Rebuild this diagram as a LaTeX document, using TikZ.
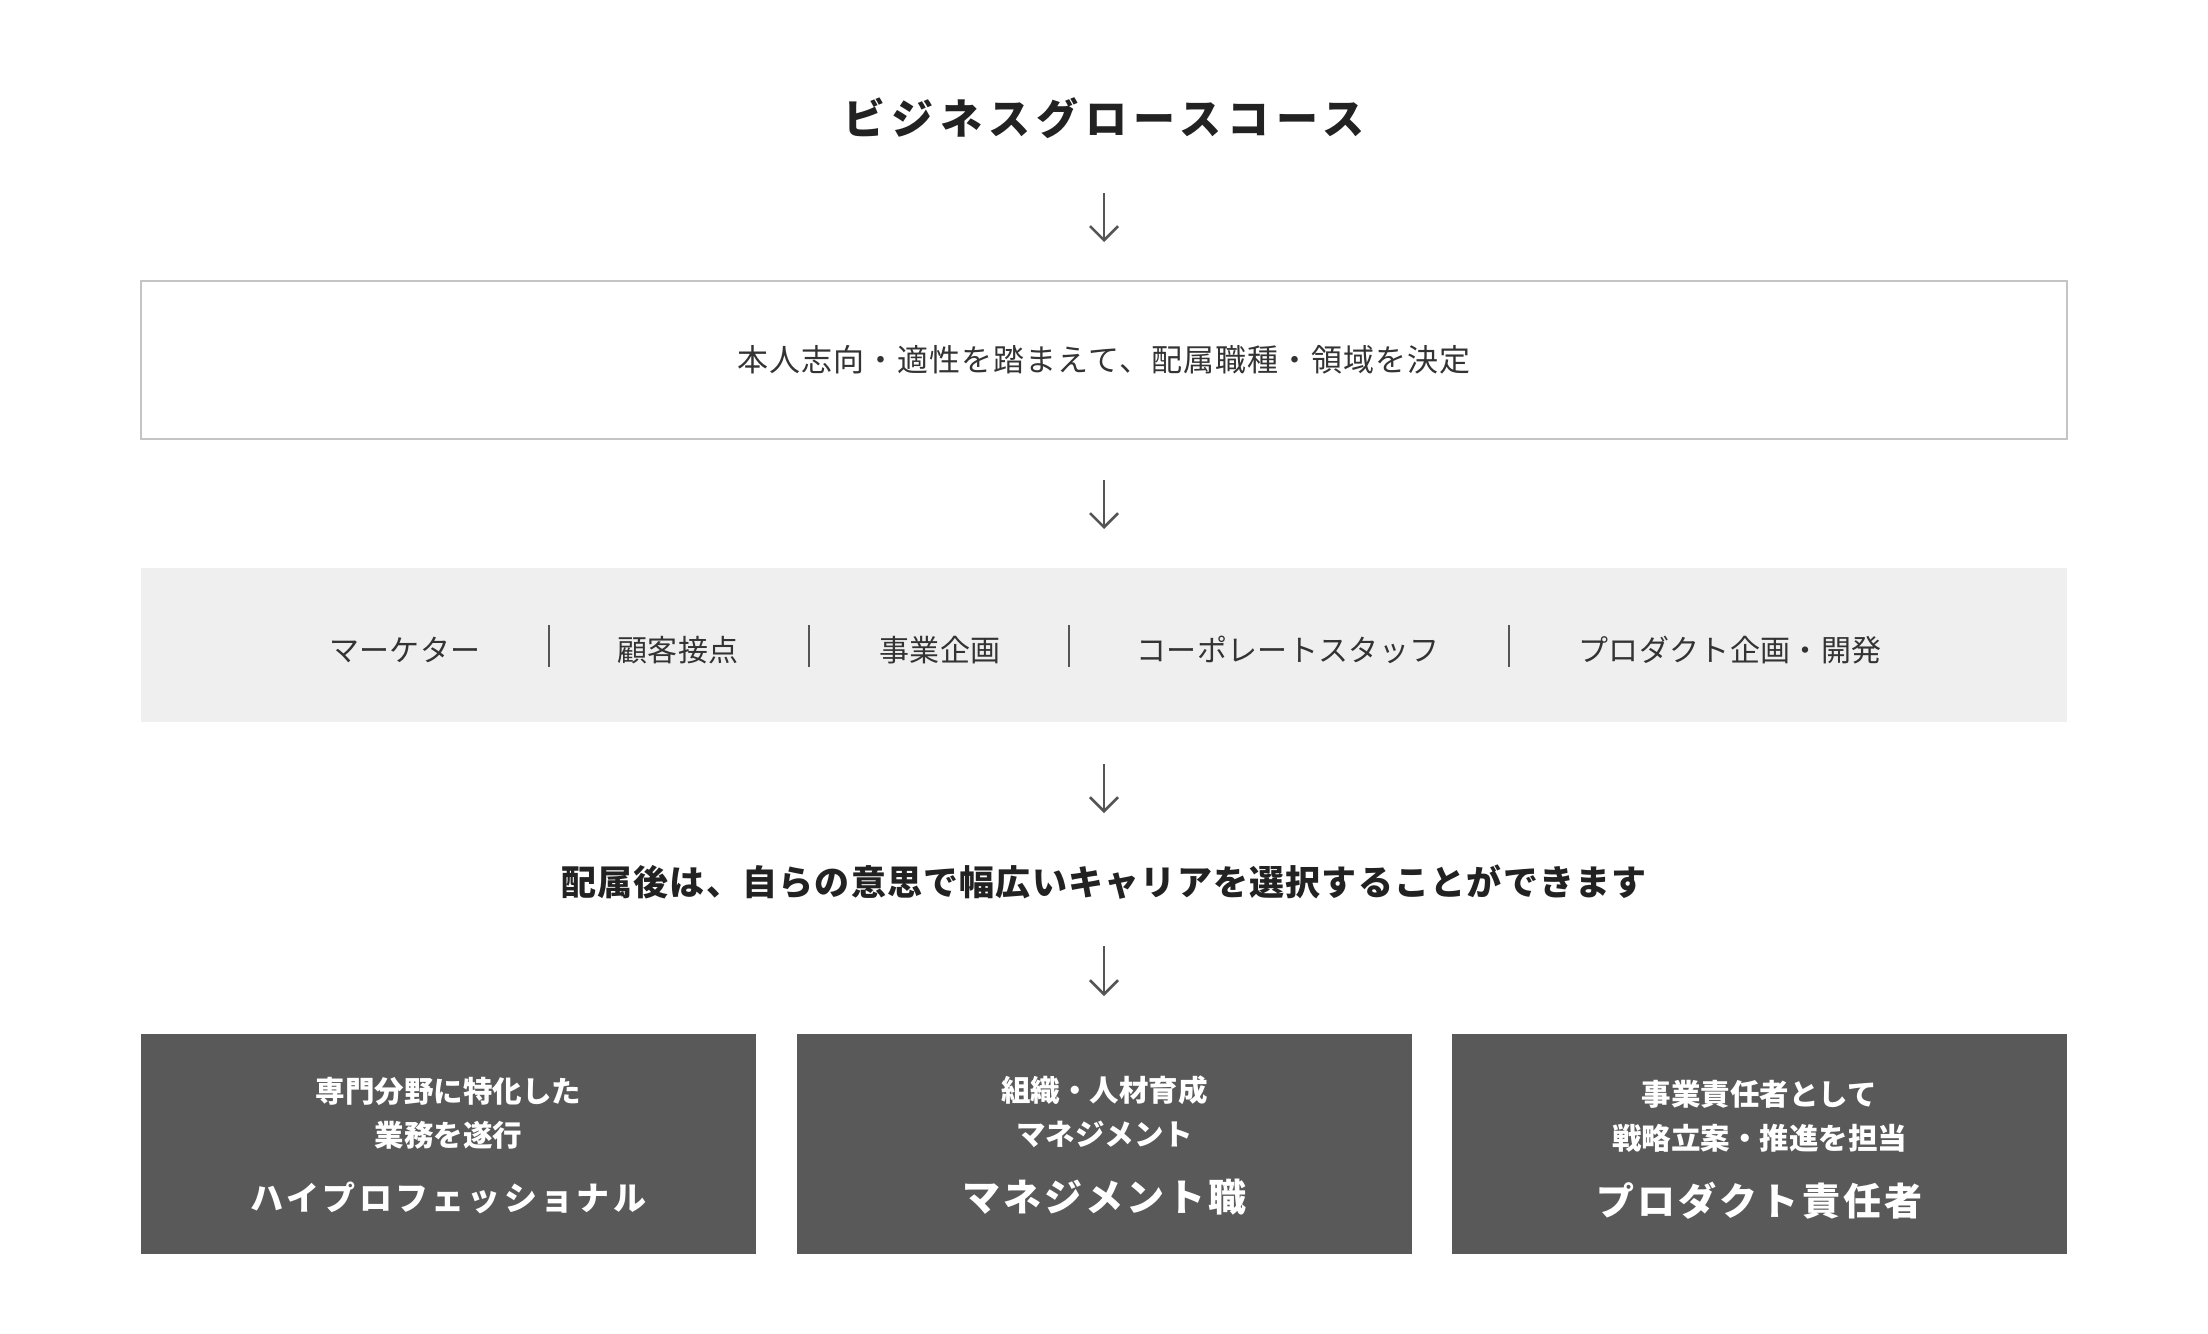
\documentclass[tikz,border=0pt]{standalone}
\usepackage{fontspec}
\setmainfont{Noto Sans CJK JP}
\usetikzlibrary{arrows.meta}
\definecolor{ink}{HTML}{222222}
\definecolor{body}{HTML}{333333}
\definecolor{arrowgray}{HTML}{555555}
\definecolor{frame}{HTML}{C4C4C4}
\definecolor{bandgray}{HTML}{EFEFEF}
\definecolor{darkgray}{HTML}{595959}
\newcommand{\jp}[2]{\fontsize{#1}{#1}\selectfont\addfontfeature{LetterSpace=#2}}
\tikzset{>={Straight Barb[length=7pt,width=14pt]}}
\tikzset{
  flow/.style={->, draw=arrowgray, line width=1.3pt},
  coursetitle/.style={text=ink, font=\bfseries\jp{21}{15}},
  plainbox/.style={draw=frame, line width=1pt, fill=white, minimum width=963pt, minimum height=79pt, text=body, font=\jp{15.5}{3.5}},
  band/.style={fill=bandgray, minimum width=963pt, minimum height=77pt, inner sep=0pt},
  role/.style={text=body, font=\jp{15}{1}},
  sep/.style={draw=arrowgray, line width=0.7pt},
  lead/.style={text=ink, font=\bfseries\jp{17.5}{3.5}},
  darkbox/.style={fill=darkgray, minimum width=307.5pt, minimum height=110pt, inner sep=0pt},
  subline/.style={text=white, font=\bfseries\jp{14.75}{0}},
}
\begin{document}
\begin{tikzpicture}[x=0.5pt, y=-0.5pt]
\fill[white] (0,0) rectangle (2208,1334);
\useasboundingbox (0,0) rectangle (2208,1334);
\node[coursetitle] (course) at (1104,118) {ビジネスグロースコース};
\node[plainbox] (decide) at (1104,360) {本人志向・適性を踏まえて、配属職種・領域を決定};
\node[band] (roles) at (1104,645) {};
\foreach \x/\t [count=\i] in {405/マーケター, 678/顧客接点, 940/事業企画, 1288/コーポレートスタッフ, 1730/プロダクト企画・開発}
\node[role] (role\i) at (\x,650) {\t};
\foreach \x in {549,809,1069,1509}
\draw[sep] (\x,625) -- (\x,667);
\node[lead] (choice) at (1104,882) {配属後は、自らの意思で幅広いキャリアを選択することができます};
\foreach \i/\ys/\ye in {1/193/242, 2/480/529, 3/764/813, 4/946/996} {
\coordinate (top\i) at (1104,\ys);
\coordinate (tip\i) at (1104,\ye);
\draw[flow] (top\i) -- (tip\i);
}
\foreach \x/\la/\lb/\lc/\s/\ls/\dy [count=\i] in {448.5/専門分野に特化した/業務を遂行/ハイプロフェッショナル/16.5/10/0, 1104.5/組織・人材育成/マネジメント/マネジメント職/19/8/-1, 1759.5/事業責任者として/戦略立案・推進を担当/プロダクト責任者/19/8/3} {
\node[darkbox] (job\i) at (\x,1144) {};
\node[subline] (job\i a) at (\x,1091+\dy) {\la};
\node[subline] (job\i b) at (\x,1135+\dy) {\lb};
\node[subline, font=\bfseries\jp{\s}{\ls}] (job\i c) at (\x,1198+\dy) {\lc};
}
\end{tikzpicture}
\end{document}
